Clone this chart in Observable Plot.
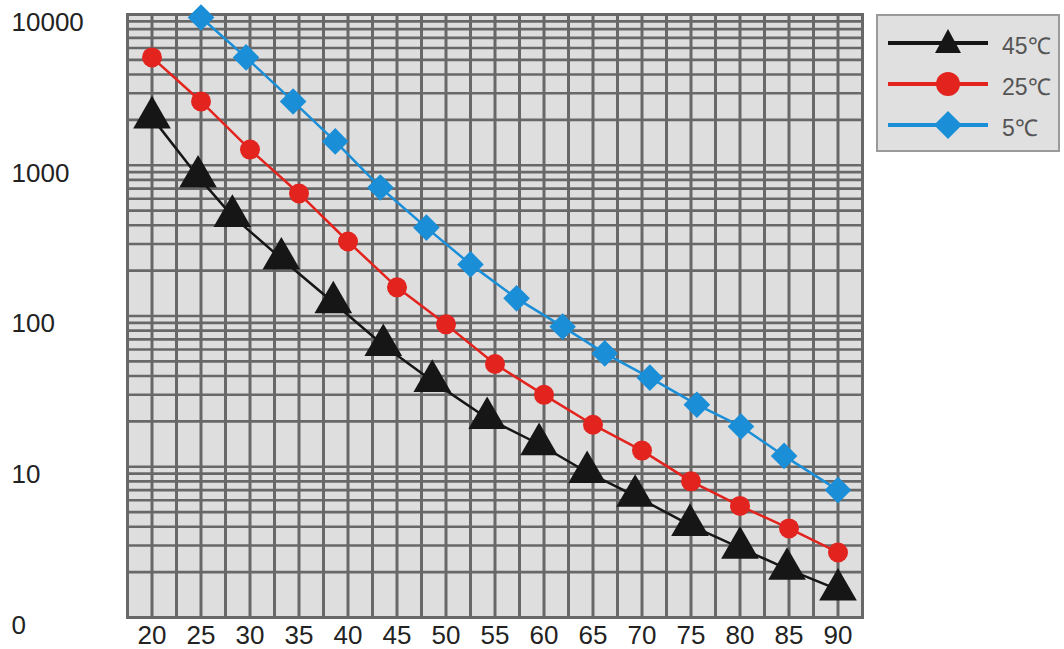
<!DOCTYPE html>
<html>
<head>
<meta charset="utf-8">
<script src="https://cdn.jsdelivr.net/npm/d3@7"></script>
<script src="https://cdn.jsdelivr.net/npm/@observablehq/plot@0.6"></script>
<style>
  body { margin: 0; background: #fff; font-family: "Liberation Sans", Arial, sans-serif; }
  #wrap { position: relative; width: 1064px; height: 649px; }
  #legend { position: absolute; left: 876px; top: 14px; width: 184px; height: 138px;
            background: #e0e0e0; border: 2px solid #9a9a9a; box-sizing: border-box; }
  #legend .row { position: absolute; left: 0; height: 40px; width: 184px; }
  #legend .row svg { position: absolute; left: 8px; top: 0; }
  #legend .row span { position: absolute; left: 124px; top: 6px; font-size: 23px; color: #555; }
</style>
</head>
<body>
<div id="wrap">
  <div id="chart"></div>
  <div id="legend"></div>
</div>
<script>
// ---- data ----
const series = ["45℃", "25℃", "5℃"];
const colors = ["#161616", "#e3231e", "#1a8fd8"];

const x45 = [20, 24.7, 28.2, 33.2, 38.5, 43.6, 48.6, 54.2, 59.5, 64.4, 69.3, 74.9, 80.0, 84.8, 90];
const y45 = [2070, 840, 460, 240, 123, 64, 37, 21, 14.1, 9.2, 6.4, 4.1, 2.9, 2.1, 1.53];

const x25 = [20, 25, 30, 35, 40, 45, 50, 55, 60, 65, 70, 75, 80, 85, 90];
const y25 = [5190, 2650, 1270, 650, 312, 155, 88, 48, 30, 19, 12.8, 8.0, 5.5, 3.9, 2.7];

const x5 = [25, 29.6, 34.4, 38.7, 43.3, 48, 52.5, 57.2, 61.9, 66.2, 70.8, 75.6, 80.1, 84.5, 90];
const y5 = [9550, 5190, 2650, 1440, 712, 386, 220, 131, 85, 56.5, 39, 25.8, 18.5, 11.8, 7.0];

const xTicks = [20, 25, 30, 35, 40, 45, 50, 55, 60, 65, 70, 75, 80, 85, 90];
const yTicks = [1, 10, 100, 1000, 10000];
const yTickLabels = ["0", "10", "100", "1000", "10000"];
const xGrid = d3.range(17.5, 92.51, 2.5);
const minorSteps = [2, 3, 4, 5, 6, 7, 8, 9];
const yGrid = [1, 10, 100, 1000].flatMap(d => [d, ...minorSteps.map(m => d * m)]).concat([10000]);

const rows = [
  ...x45.map((x, i) => ({ s: series[0], x, y: y45[i] })),
  ...x25.map((x, i) => ({ s: series[1], x, y: y25[i] })),
  ...x5.map((x, i) => ({ s: series[2], x, y: y5[i] }))
];
const bySeries = s => rows.filter(d => d.s === s);

const gridColor = "#686868";

const plot = Plot.plot({
  width: 1064,
  height: 649,
  marginLeft: 127,
  marginRight: 202,
  marginTop: 14,
  marginBottom: 32,
  style: { fontFamily: "Liberation Sans, Arial, sans-serif", background: "transparent" },
  x: { domain: [17.5, 92.5], axis: null },
  y: { type: "log", domain: [1, 10000], axis: null },
  marks: [
    Plot.frame({ fill: "#dedede", stroke: null }),
    Plot.ruleX(xGrid, { stroke: gridColor, strokeWidth: 3 }),
    Plot.ruleY(yGrid, { stroke: gridColor, strokeWidth: 2.6 }),
    Plot.frame({ stroke: gridColor, strokeWidth: 3 }),
    Plot.axisX({ ticks: xTicks, tickSize: 0, tickPadding: 8, fontSize: 26, fill: "#222", label: null }),
    Plot.axisY({ ticks: yTicks, tickFormat: d => yTickLabels[yTicks.indexOf(d)], tickSize: 0,
                 textAnchor: "start", dx: -107, dy: 8, fontSize: 26, fill: "#222", label: null }),
    Plot.line(bySeries(series[2]), { x: "x", y: "y", stroke: colors[2], strokeWidth: 2.5 }),
    Plot.line(bySeries(series[1]), { x: "x", y: "y", stroke: colors[1], strokeWidth: 2.5 }),
    Plot.line(bySeries(series[0]), { x: "x", y: "y", stroke: colors[0], strokeWidth: 2.5 }),
    Plot.dot(bySeries(series[2]), { x: "x", y: "y", symbol: "diamond2", r: 12, fill: colors[2] }),
    Plot.dot(bySeries(series[1]), { x: "x", y: "y", symbol: "circle", r: 10, fill: colors[1] }),
    Plot.dot(bySeries(series[0]), { x: "x", y: "y", symbol: "triangle", r: 14, fill: colors[0] })
  ]
});
document.getElementById("chart").appendChild(plot);

// ---- legend ----
const legend = document.getElementById("legend");
const shapes = [
  c => `<polygon points="62,6 49,30 75,30" fill="${c}"/>`,
  c => `<circle cx="62" cy="20" r="12" fill="${c}"/>`,
  c => `<polygon points="62,6 76,20 62,34 48,20" fill="${c}"/>`
];
series.forEach((s, i) => {
  const row = document.createElement("div");
  row.className = "row";
  row.style.top = (7 + i * 41) + "px";
  row.innerHTML = `<svg width="110" height="40"><line x1="2" x2="102" y1="20" y2="20" stroke="${colors[i]}" stroke-width="4"/>${shapes[i](colors[i])}</svg><span>${s}</span>`;
  legend.appendChild(row);
});
</script>
</body>
</html>
